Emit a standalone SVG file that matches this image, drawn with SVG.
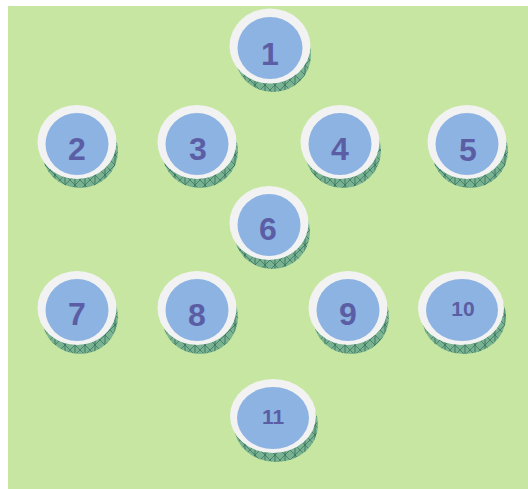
<svg xmlns="http://www.w3.org/2000/svg" width="528" height="489" viewBox="0 0 528 489">
<defs>
<pattern id="hatch" patternUnits="userSpaceOnUse" width="10" height="10">
<rect width="10" height="10" fill="#79b290"/>
<path d="M0 0 L10 10 M10 0 L0 10" stroke="#3c7a64" stroke-width="0.8"/>
<path d="M5 0 V10" stroke="#2f6a58" stroke-width="0.8"/>
</pattern>
</defs>
<style>
.sh{fill:url(#hatch);}
.ring{fill:#f2f2f2;}
.face{fill:#8db3e2;}
.lbl{font-family:"Liberation Sans",Arial,sans-serif;font-weight:bold;fill:#5b5ea4;text-anchor:middle;font-size:32px;}
.sm{font-size:21px;}
</style>
<rect x="8" y="6" width="520" height="483" fill="#c7e6a1"/>
<g id="connectors"></g>
<g id="n1"><ellipse class="sh" cx="273" cy="55" rx="38" ry="37"/><ellipse class="ring" cx="270" cy="46" rx="40.5" ry="37.5"/><ellipse class="face" cx="270" cy="48" rx="32.5" ry="31"/><text class="lbl" x="270" y="64.5">1</text></g>
<g id="n2"><ellipse class="sh" cx="80" cy="151" rx="38" ry="37"/><ellipse class="ring" cx="77" cy="142" rx="39.5" ry="37"/><ellipse class="face" cx="77" cy="144" rx="31.5" ry="31"/><text class="lbl" x="77" y="160">2</text></g>
<g id="n3"><ellipse class="sh" cx="200" cy="151" rx="38" ry="37"/><ellipse class="ring" cx="197" cy="142" rx="39.5" ry="37"/><ellipse class="face" cx="197" cy="144" rx="31.5" ry="31"/><text class="lbl" x="198" y="160">3</text></g>
<g id="n4"><ellipse class="sh" cx="343" cy="151" rx="38" ry="37"/><ellipse class="ring" cx="340" cy="142" rx="39.5" ry="37"/><ellipse class="face" cx="340" cy="144" rx="31.5" ry="31"/><text class="lbl" x="340" y="160">4</text></g>
<g id="n5"><ellipse class="sh" cx="470" cy="151" rx="38" ry="37"/><ellipse class="ring" cx="467" cy="142" rx="39.5" ry="37"/><ellipse class="face" cx="467" cy="144" rx="31.5" ry="31"/><text class="lbl" x="468" y="161">5</text></g>
<g id="n6"><ellipse class="sh" cx="272" cy="232" rx="38" ry="37"/><ellipse class="ring" cx="269" cy="223" rx="39.5" ry="37"/><ellipse class="face" cx="269" cy="225" rx="31.5" ry="31"/><text class="lbl" x="268" y="240">6</text></g>
<g id="n7"><ellipse class="sh" cx="80" cy="317" rx="38" ry="37"/><ellipse class="ring" cx="77" cy="308" rx="39.5" ry="37"/><ellipse class="face" cx="77" cy="310" rx="31.5" ry="31"/><text class="lbl" x="77" y="325">7</text></g>
<g id="n8"><ellipse class="sh" cx="200" cy="317" rx="38" ry="37"/><ellipse class="ring" cx="197" cy="308" rx="39.5" ry="37"/><ellipse class="face" cx="197" cy="310" rx="31.5" ry="31"/><text class="lbl" x="197" y="326">8</text></g>
<g id="n9"><ellipse class="sh" cx="351" cy="317" rx="38" ry="37"/><ellipse class="ring" cx="348" cy="308" rx="39.5" ry="37"/><ellipse class="face" cx="348" cy="310" rx="31.5" ry="31"/><text class="lbl" x="348" y="325">9</text></g>
<g id="n10"><ellipse class="sh" cx="464" cy="317" rx="42" ry="37"/><ellipse class="ring" cx="461" cy="308" rx="43" ry="37"/><ellipse class="face" cx="462" cy="310" rx="36" ry="31"/><text class="lbl sm" x="463" y="315.5">10</text></g>
<g id="n11"><ellipse class="sh" cx="276" cy="425" rx="42" ry="37"/><ellipse class="ring" cx="273" cy="416" rx="43" ry="37"/><ellipse class="face" cx="273" cy="418" rx="36" ry="31"/><text class="lbl sm" x="273" y="424">11</text></g>
</svg>
